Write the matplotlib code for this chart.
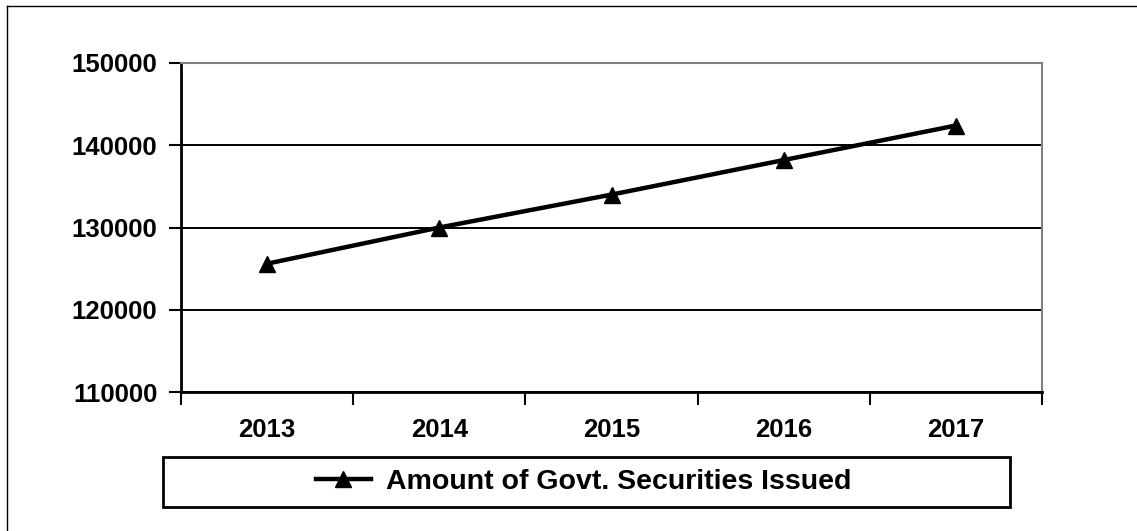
import matplotlib.pyplot as plt
from matplotlib.patches import Rectangle
from matplotlib.lines import Line2D
import numpy as np

plt.rcParams['font.family'] = ['Liberation Sans', 'DejaVu Sans']

# data
years = ['2013', '2014', '2015', '2016', '2017']
amount = [125600, 130000, 134000, 138200, 142400]
label = 'Amount of Govt. Securities Issued'

fig = plt.figure(figsize=(11.37, 5.31), dpi=100)
ax = fig.add_axes([181 / 1137, 1 - 392 / 531, (1042 - 181) / 1137, (392 - 63) / 531])

x = np.arange(len(years))
ax.plot(x, amount, color='black', lw=3.2, marker='^', markersize=12, label=label, zorder=3)

ax.set_xlim(-0.5, len(years) - 0.5)
ax.set_ylim(110000, 150000)
ax.set_yticks(np.arange(110000, 150001, 10000))
ax.yaxis.grid(True, color='black', lw=1.4)
ax.set_axisbelow(True)

# category labels in the middle, ticks on the boundaries
ax.set_xticks(np.arange(-0.5, len(years)), labels=[''] * (len(years) + 1))
ax.set_xticks(x, labels=years, minor=True)
ax.tick_params(axis='x', which='minor', length=0, pad=19)
ax.tick_params(axis='x', which='major', length=9, width=1.5, direction='out')
ax.tick_params(axis='y', length=9, width=1.5, direction='out', pad=8)
for t in ax.get_xticklabels(minor=True) + ax.get_yticklabels():
    t.set_fontsize(18.5)
    t.set_fontweight('bold')

ax.spines['left'].set_linewidth(2)
ax.spines['bottom'].set_linewidth(2)
for s in ['top', 'right']:
    ax.spines[s].set_color('#808080')
    ax.spines[s].set_linewidth(1.5)

# legend box
fig.patches.append(Rectangle((163 / 1137, 1 - 507 / 531), (1010 - 163) / 1137, 50 / 531,
                             transform=fig.transFigure, fill=False, ec='black', lw=2))
leg = fig.legend(loc='center', bbox_to_anchor=(584 / 1137, 1 - 482 / 531),
                 frameon=False, handlelength=1.9, handletextpad=0.55,
                 prop={'size': 20.5, 'weight': 'bold'})

# outer border (only left and top are inside the image)
fig.add_artist(Line2D([7 / 1137, 7 / 1137], [0, 1 - 6 / 531], transform=fig.transFigure,
                      color='black', lw=1))
fig.add_artist(Line2D([7 / 1137, 1], [1 - 6 / 531, 1 - 6 / 531], transform=fig.transFigure,
                      color='black', lw=1))

fig.savefig('out.png', dpi=100)
